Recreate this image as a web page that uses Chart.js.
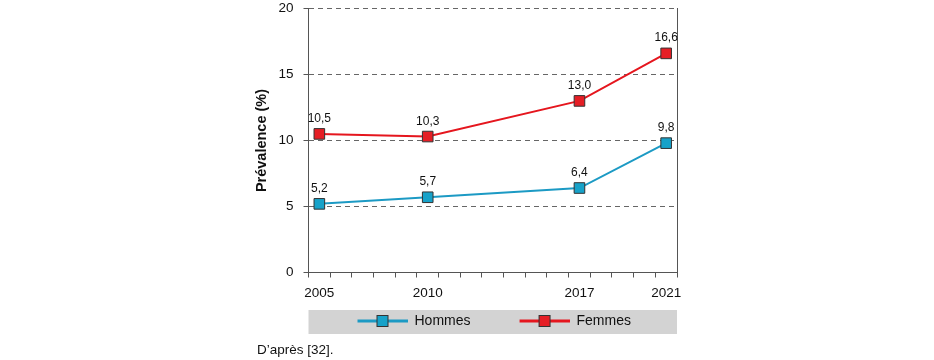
<!DOCTYPE html>
<html><head><meta charset="utf-8">
<script src="https://cdn.jsdelivr.net/npm/chart.js@4.4.1/dist/chart.umd.min.js"></script>
<style>
html,body{margin:0;padding:0;background:#fff;}
#wrap{position:relative;width:934px;height:360px;}
#source{position:absolute;left:257px;top:342px;font:13.5px "Liberation Sans Narrow","Arial Narrow","Liberation Sans",sans-serif;color:#111;white-space:nowrap;}
</style></head><body>
<div id="wrap"><canvas id="c" width="934" height="360"></canvas><div id="source">D’après [32].</div></div>
<script>
const years = [2005, 2010, 2017, 2021];
const hommes = [5.2, 5.7, 6.4, 9.8];
const femmes = [10.5, 10.3, 13.0, 16.6];
const xTickLabels = [2005, 2010, 2017, 2021];
const yTicks = [0, 5, 10, 15, 20];
const seriesNames = ['Hommes', 'Femmes'];
const yTitle = 'Prévalence (%)';

const FONT = '"Liberation Sans Narrow", "Arial Narrow", "Liberation Sans", sans-serif';
const BLUE_LINE = '#1c9ac4', BLUE_FILL = '#17a2c9';
const RED_LINE = '#e5161e', RED_FILL = '#e51e25';
const AXIS = '#555';

function makeSymbol(lineColor, fillColor) {
  const W = 95, H = 14;
  const cv = document.createElement('canvas');
  cv.width = W; cv.height = H;
  const c = cv.getContext('2d');
  c.strokeStyle = lineColor; c.lineWidth = 3;
  c.beginPath(); c.moveTo(W - 50, H / 2); c.lineTo(W, H / 2); c.stroke();
  c.fillStyle = fillColor; c.fillRect(W - 30.5, H / 2 - 5.5, 11, 11);
  c.strokeStyle = '#333'; c.lineWidth = 1; c.strokeRect(W - 30.5, H / 2 - 5.5, 11, 11);
  return cv;
}
const symbols = [makeSymbol(BLUE_LINE, BLUE_FILL), makeSymbol(RED_LINE, RED_FILL)];

const xTickValues = [];
for (let v = 2004.5; v <= 2021.5; v += 0.5) {
  if (v % 1 !== 0 || xTickLabels.includes(v)) xTickValues.push(v);
}

const legendBox = {
  id: 'legendBox',
  beforeDraw(chart) {
    const ctx = chart.ctx, a = chart.chartArea, lg = chart.legend;
    ctx.save();
    ctx.fillStyle = '#d3d3d3';
    ctx.fillRect(a.left, lg.top, a.right - a.left, 24);
    ctx.restore();
  }
};
const valueLabels = {
  id: 'valueLabels',
  afterDatasetsDraw(chart) {
    const ctx = chart.ctx;
    ctx.save();
    ctx.font = '12px ' + FONT;
    ctx.fillStyle = '#111';
    ctx.textAlign = 'center';
    ctx.textBaseline = 'alphabetic';
    chart.data.datasets.forEach((ds, di) => {
      chart.getDatasetMeta(di).data.forEach((pt, i) => {
        ctx.fillText(ds.data[i].y.toFixed(1).replace('.', ','), pt.x, pt.y - 12);
      });
    });
    ctx.restore();
  }
};

new Chart(document.getElementById('c'), {
  type: 'line',
  data: {
    datasets: [
      { label: seriesNames[0], data: years.map((y, i) => ({x: y, y: hommes[i]})),
        borderColor: BLUE_LINE, backgroundColor: BLUE_FILL, borderWidth: 2,
        pointStyle: 'rect', pointRadius: 7.5, pointBackgroundColor: BLUE_FILL,
        pointBorderColor: '#333', pointBorderWidth: 1, tension: 0 },
      { label: seriesNames[1], data: years.map((y, i) => ({x: y, y: femmes[i]})),
        borderColor: RED_LINE, backgroundColor: RED_FILL, borderWidth: 2,
        pointStyle: 'rect', pointRadius: 7.5, pointBackgroundColor: RED_FILL,
        pointBorderColor: '#333', pointBorderWidth: 1, tension: 0 }
    ]
  },
  options: {
    responsive: false,
    animation: false,
    devicePixelRatio: 1,
    layout: { padding: { left: 248.5, right: 257, top: 6, bottom: 22 } },
    scales: {
      x: {
        type: 'linear', min: 2004.5, max: 2021.5,
        afterBuildTicks: s => { s.ticks = xTickValues.map(v => ({value: v})); },
        afterFit: s => { s.height = 37.5; s.paddingLeft = 0; s.paddingRight = 0; },
        ticks: {
          autoSkip: false, maxRotation: 0, minRotation: 0, padding: 8,
          font: { size: 13.5, family: FONT }, color: '#111',
          callback: v => xTickLabels.includes(v) ? String(v) : ''
        },
        grid: {
          drawOnChartArea: false, tickLength: 5,
          tickColor: c => (c.tick && c.tick.value % 1 !== 0) ? AXIS : 'rgba(0,0,0,0)'
        },
        border: { color: AXIS, width: 1 }
      },
      y: {
        min: 0, max: 20,
        afterBuildTicks: s => { s.ticks = yTicks.map(v => ({value: v})); },
        afterFit: s => { s.width = 60; s.paddingTop = 0; s.paddingBottom = 0; },
        ticks: { padding: 10, font: { size: 13.5, family: FONT }, color: '#111' },
        grid: {
          color: c => (c.tick && c.tick.value === 0) ? 'rgba(0,0,0,0)' : '#666',
          lineWidth: 1, tickLength: 5, tickColor: AXIS, tickBorderDash: []
        },
        border: { color: AXIS, width: 1, dash: [5, 4] },
        title: { display: true, text: yTitle, font: { size: 14.5, weight: 'bold', family: FONT }, color: '#111', padding: { top: 5, bottom: 0 } }
      },
      yr: {
        position: 'right', display: true, min: 0, max: 20,
        afterFit: s => { s.width = 0; s.paddingTop = 0; s.paddingBottom = 0; },
        ticks: { display: false },
        grid: { drawOnChartArea: false, drawTicks: false },
        border: { color: AXIS, width: 1 }
      }
    },
    plugins: {
      legend: {
        position: 'bottom', fullSize: false, align: 'start',
        labels: {
          usePointStyle: true, pointStyleWidth: 95, padding: 4,
          font: { size: 14, family: FONT }, color: '#111',
          generateLabels: chart => {
            const items = Chart.defaults.plugins.legend.labels.generateLabels(chart);
            items.forEach((it, i) => { it.pointStyle = symbols[i]; });
            return items;
          }
        }
      },
      tooltip: { enabled: false }
    }
  },
  plugins: [legendBox, valueLabels]
});
</script>
</body></html>
